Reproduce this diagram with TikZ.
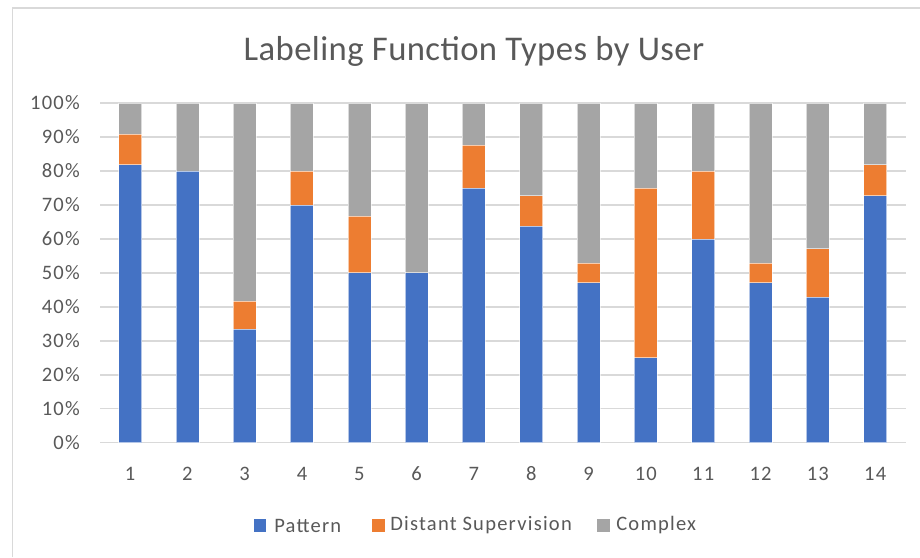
\documentclass[tikz,border=0pt]{standalone}
\usepackage{fontspec}
\setmainfont{Carlito}
\newfontfamily\axisfont{Carlito}[LetterSpace=6]
\newfontfamily\headfont{Carlito}[LetterSpace=1.2]
\definecolor{serA}{HTML}{4472C4}
\definecolor{serB}{HTML}{ED7D31}
\definecolor{serC}{HTML}{A5A5A5}
\definecolor{gridc}{HTML}{D9D9D9}
\definecolor{txt}{HTML}{595959}
\tikzset{
  gridline/.style={draw=gridc, line width=1.4pt},
  frameline/.style={draw=gridc, line width=1.3pt},
  ticklabel/.style={text=txt, font=\axisfont\fontsize{15.4}{18}\selectfont, inner sep=0pt},
  titletext/.style={text=txt, font=\headfont\fontsize{26}{30}\selectfont, inner sep=0pt},
  seg/.style={draw=white, line width=0.4pt},
  legkey/.style={minimum size=9.4pt, inner sep=0pt, draw=none},
}
\begin{document}
\begin{tikzpicture}[x=0.75pt,y=-0.75pt]
\useasboundingbox (0,0) rectangle (920,557);
\fill[white] (0,0) rectangle (920,557);
% chart frame (top and left edges)
\draw[frameline] (12.5,557) -- (12.5,8) -- (920,8);
% title
\node[titletext] (title) at (474,51) {Labeling Function Types by User};
% horizontal gridlines and percentage labels
\foreach \k in {0,...,10} {
  \pgfmathsetmacro\gy{442.5-33.95*\k}
  \pgfmathtruncatemacro\pv{10*\k}
  \draw[gridline] (100,\gy) -- (906,\gy);
  \node[ticklabel, anchor=east] (yl\k) at (80,\gy) {\pv\%};
}
% stacked bars: user / pattern top / distant-supervision top (percent)
\foreach \i/\a/\b in {1/81.82/90.91, 2/80/80, 3/33.33/41.67, 4/70/80,
    5/50/66.67, 6/50/50, 7/75/87.5, 8/63.64/72.73, 9/47.06/52.94,
    10/25/75, 11/60/80, 12/47.06/52.94, 13/42.86/57.14, 14/72.73/81.82} {
  \pgfmathsetmacro\cx{130+57.32*(\i-1)}
  \pgfmathsetmacro\ya{442.5-3.395*\a}
  \pgfmathsetmacro\yb{442.5-3.395*\b}
  \fill[serC] (\cx-11.5,\yb) rectangle (\cx+11.5,103);
  \fill[serB] (\cx-11.5,\ya) rectangle (\cx+11.5,\yb);
  \fill[serA] (\cx-11.5,442.5) rectangle (\cx+11.5,\ya);
  \draw[seg, draw opacity=0.6] (\cx-11.5,442.5) rectangle (\cx+11.5,103);
  \draw[seg, draw opacity=0.6] (\cx-11.5,\ya) -- (\cx+11.5,\ya) (\cx-11.5,\yb) -- (\cx+11.5,\yb);
  \node[ticklabel] (xl\i) at (\cx,473.5) {\i};
}
% legend
\node[legkey, fill=serA] (kA) at (260.2,525.5) {};
\node[ticklabel, anchor=west] (lA) at (274,525.5) {Pattern};
\node[legkey, fill=serB] (kB) at (378.6,525.5) {};
\node[ticklabel, anchor=west] (lB) at (390,525.5) {Distant Supervision};
\node[legkey, fill=serC] (kC) at (603.6,525.5) {};
\node[ticklabel, anchor=west] (lC) at (616,525.5) {Complex};
\end{tikzpicture}
\end{document}
